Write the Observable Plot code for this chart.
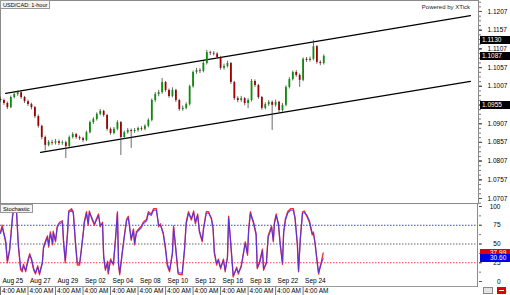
<!DOCTYPE html>
<html><head><meta charset="utf-8">
<script src="https://cdn.jsdelivr.net/npm/d3@7"></script>
<script src="https://cdn.jsdelivr.net/npm/@observablehq/plot@0.6"></script>
<style>
body{margin:0;background:#fff;font-family:"Liberation Sans",Arial,sans-serif;}
#wrap{position:relative;width:510px;height:295px;overflow:hidden;background:#fff;}
#main,#stoch{position:absolute;left:0;}
#main{top:0}
#stoch{top:204px}
.ov{position:absolute;font-size:6.5px;line-height:8px;white-space:nowrap;}
.pbox{background:#000;color:#fff;width:30px;height:8px;left:480px;padding-left:2px;box-sizing:border-box;}
</style></head><body><div id="wrap"><div id="main"></div><div id="stoch"></div></div>
<script>
// ---- price data (6-hour candles, hours since Aug 25 4:00 AM) ----
const hours = [0,6,12,18,24,30,36,42,48,54,60,66,72,78,84,90,96,102,108,114,120,126,132,138,144,150,156,162,168,174,180,186,192,198,204,210,216,222,228,234,240,246,252,258,264,270,276,282,288,294,300,306,312,318,324,330,336,342,348,354,360,366,372,378,384,390,396,402,408,414,420,426,432,438,444,450,456,462,468,474,480,486,492,498,504,510,516,522,528,534,540,546,552,558,564];
const opens = [1.0972,1.0969,1.0961,1.0950,1.0977,1.0985,1.0990,1.0977,1.0966,1.0958,1.0950,1.0926,1.0900,1.0870,1.0849,1.0857,1.0855,1.0859,1.0854,1.0856,1.0846,1.0870,1.0878,1.0870,1.0867,1.0862,1.0883,1.0910,1.0918,1.0932,1.0940,1.0929,1.0892,1.0881,1.0892,1.0910,1.0870,1.0883,1.0889,1.0886,1.0889,1.0894,1.0892,1.0900,1.0916,1.0969,1.0985,1.0990,1.1017,1.0996,1.0980,1.0996,1.0969,1.0945,1.0948,1.0958,1.1006,1.1044,1.1049,1.1047,1.1068,1.1097,1.1095,1.1093,1.1084,1.1055,1.1060,1.1068,1.1017,1.0974,1.0969,1.0974,1.0961,1.0969,1.1020,1.1009,1.0977,1.0948,1.0958,1.0964,1.0956,1.0964,1.0942,1.0956,1.1004,1.1025,1.1044,1.1036,1.1023,1.1079,1.1076,1.1079,1.1113,1.1071,1.1068];
const highs = [1.0978,1.0973,1.0965,1.0981,1.0989,1.0994,1.0992,1.0980,1.0970,1.0962,1.0953,1.0930,1.0903,1.0874,1.0862,1.0863,1.0865,1.0863,1.0861,1.0860,1.0874,1.0883,1.0881,1.0874,1.0871,1.0887,1.0914,1.0923,1.0936,1.0945,1.0943,1.0932,1.0896,1.0897,1.0915,1.0913,1.0887,1.0894,1.0893,1.0894,1.0898,1.0899,1.0904,1.0920,1.0973,1.0990,1.0996,1.1028,1.1020,1.1000,1.1003,1.0999,1.0972,1.0954,1.0963,1.1010,1.1048,1.1055,1.1054,1.1073,1.1103,1.1101,1.1100,1.1097,1.1087,1.1066,1.1074,1.1071,1.1020,1.0979,1.0980,1.0977,1.0974,1.1025,1.1024,1.1012,1.0980,1.0963,1.0969,1.0968,1.0970,1.0967,1.0961,1.1008,1.1030,1.1048,1.1049,1.1040,1.1083,1.1084,1.1085,1.1130,1.1116,1.1075,1.1091];
const lows = [1.0964,1.0956,1.0945,1.0947,1.0973,1.0980,1.0972,1.0961,1.0953,1.0944,1.0921,1.0895,1.0864,1.0834,1.0845,1.0849,1.0850,1.0848,1.0849,1.0814,1.0842,1.0866,1.0865,1.0862,1.0857,1.0859,1.0880,1.0905,1.0914,1.0928,1.0924,1.0887,1.0876,1.0877,1.0888,1.0822,1.0865,1.0879,1.0841,1.0881,1.0884,1.0887,1.0888,1.0896,1.0912,1.0964,1.0979,1.0986,1.0991,1.0975,1.0976,1.0964,1.0940,1.0940,1.0944,1.0954,1.1002,1.1039,1.1041,1.1043,1.1064,1.1089,1.1088,1.1079,1.1050,1.1050,1.1056,1.1012,1.0969,1.0963,1.0964,1.0955,1.0947,1.0965,1.1004,1.0972,1.0943,1.0944,1.0953,1.0889,1.0951,1.0936,1.0938,1.0952,1.1000,1.1021,1.1031,1.1004,1.1019,1.1071,1.1072,1.1075,1.1066,1.1062,1.1064];
const closes = [1.0969,1.0961,1.0950,1.0977,1.0985,1.0990,1.0977,1.0966,1.0958,1.0950,1.0926,1.0900,1.0870,1.0849,1.0857,1.0855,1.0859,1.0854,1.0856,1.0846,1.0870,1.0878,1.0870,1.0867,1.0862,1.0883,1.0910,1.0918,1.0932,1.0940,1.0929,1.0892,1.0881,1.0892,1.0910,1.0870,1.0883,1.0889,1.0886,1.0889,1.0894,1.0892,1.0900,1.0916,1.0969,1.0985,1.0990,1.1017,1.0996,1.0980,1.0996,1.0969,1.0945,1.0948,1.0958,1.1006,1.1044,1.1049,1.1047,1.1068,1.1097,1.1095,1.1093,1.1084,1.1055,1.1060,1.1068,1.1017,1.0974,1.0969,1.0974,1.0961,1.0969,1.1020,1.1009,1.0977,1.0948,1.0958,1.0964,1.0956,1.0964,1.0942,1.0956,1.1004,1.1025,1.1044,1.1036,1.1023,1.1079,1.1076,1.1079,1.1113,1.1071,1.1068,1.1087];

// channel lines
const upperT = [9, 820];
const upperP = [1.0988, 1.1196];
const lowerT = [70, 820];
const lowerP = [1.0830, 1.1020];

// price axis (1.0957 is hidden under the 1.0955 marker box in the reference)
const priceTicks = [1.0707,1.0757,1.0807,1.0857,1.0907,1.0957,1.1007,1.1057,1.1107,1.1157,1.1207];
const priceLabelTicks = [1.0707,1.0757,1.0807,1.0857,1.0907,1.1007,1.1057,1.1107,1.1157,1.1207];
const priceMinor = [1.06945,1.0707,1.07195,1.0732,1.07445,1.0757,1.07695,1.0782,1.07945,1.0807,1.08195,1.0832,1.08445,1.0857,1.08695,1.0882,1.08945,1.0907,1.09195,1.0932,1.09445,1.0957,1.09695,1.0982,1.09945,1.1007,1.10195,1.1032,1.10445,1.1057,1.10695,1.1082,1.10945,1.1107,1.11195,1.1132,1.11445,1.1157,1.11695,1.1182,1.11945,1.1207,1.12195,1.1232];
const priceMarkers = [1.1130, 1.1087, 1.0955];

// date axis
const dateTicks = [0,48,96,144,192,240,288,336,384,432,480,528];
const dateLabels = ["Aug 25","Aug 27","Aug 29","Sep 02","Sep 04","Sep 08","Sep 10","Sep 12","Sep 16","Sep 18","Sep 22","Sep 24"];

// stochastic
const stochT = [0,3,9,12,16,21,23,28,31,35,38,40,44,47,51,54,58,61,65,68,73,75,78,82,84,87,91,92,96,99,103,108,110,113,117,119,124,127,131,134,138,141,145,146,150,153,155,160,164,167,171,174,178,180,183,187,188,192,197,201,204,206,208,213,216,220,223,228,232,234,237,241,246,249,255,258,263,267,272,276,279,284,288,291,295,300,302,305,309,310,317,321,324,328,333,337,340,344,347,352,354,359,363,368,371,373,377,380,384,389,392,396,398,401,405,406,412,415,420,424,427,431,433,436,439,441,446,448,452,457,459,464,467,473,476,478,481,485,488,492,494,497,501,506,511,514,518,520,523,527,530,535,539,544,546,549,553,555,560,563];
const stochD = [64,72,55,28,41,85,96,92,51,19,15,21,15,24,35,31,17,12,19,11,24,44,51,59,48,64,51,65,55,72,77,79,55,28,64,92,95,91,51,25,24,41,68,77,91,77,92,84,77,81,88,75,77,35,17,25,12,28,24,59,91,24,11,41,59,81,85,57,68,51,64,68,72,77,81,91,88,95,95,75,75,65,45,24,15,37,72,51,19,12,11,41,77,91,84,92,79,88,68,55,68,91,91,85,71,41,24,28,19,28,15,31,85,59,19,8,17,12,19,37,51,37,68,91,85,81,64,19,24,41,17,24,59,72,55,77,88,77,51,25,64,81,91,95,95,85,51,15,55,91,92,88,81,64,64,51,24,12,25,30.6];
const stochK = [66,75,52,25,44,88,98,94,48,16,13,23,13,26,37,29,15,10,21,9,26,46,53,61,46,66,49,67,53,74,79,81,52,25,66,94,97,93,48,22,22,43,70,79,93,75,94,82,75,83,90,73,79,32,15,27,10,30,22,61,93,22,9,43,61,83,87,55,70,49,66,70,74,79,83,93,90,97,97,73,77,63,42,21,13,39,74,49,17,10,9,43,79,93,82,94,77,90,66,53,70,93,93,83,69,38,22,30,17,30,13,33,87,57,17,6,19,10,21,39,53,35,70,93,83,79,62,17,26,43,15,26,61,74,53,79,90,75,49,23,66,83,93,97,97,83,48,13,57,93,94,86,79,62,66,49,22,10,27,37.99];
const stochTicks = [0,25,50,75,100];
const stochMinor = [0,12.5,25,37.5,50,62.5,75,87.5,100];
const stochLast = {k: 37.99, d: 30.60};

// ---- build ----
const X_DOMAIN = [0, 834];
const candles = hours.map((t,i)=>({t, o:opens[i], h:highs[i], l:lows[i], c:closes[i]}));
const up = candles.filter(d=>d.c>=d.o), down = candles.filter(d=>d.c<d.o);
const upper = upperT.map((t,i)=>({t, p:upperP[i]}));
const lower = lowerT.map((t,i)=>({t, p:lowerP[i]}));
const stochData = stochT.map((t,i)=>({t, k:stochK[i], d:stochD[i]}));
const FONT = "Liberation Sans, Arial, sans-serif";

const main = Plot.plot({
  width:510, height:204, marginLeft:0, marginRight:32, marginTop:0, marginBottom:1,
  x:{domain:X_DOMAIN, axis:null},
  y:{domain:[1.06936,1.12364], axis:null},
  style:{fontFamily:FONT, fontSize:"6.5px", background:"transparent", overflow:"visible", color:"#000"},
  marks:[
    Plot.frame({stroke:"#8a8a8a"}),
    Plot.axisY(priceMinor, {anchor:"right", tickSize:2, tickFormat:()=>"", stroke:"#777"}),
    Plot.axisY(priceTicks, {anchor:"right", tickSize:3, tickFormat:()=>"", stroke:"#555"}),
    Plot.axisY(priceLabelTicks, {anchor:"right", tickSize:3, tickPadding:6, tickFormat:d=>d.toFixed(4), stroke:"#555"}),
    Plot.line(upper, {x:"t", y:"p", stroke:"#000", strokeWidth:1.25}),
    Plot.line(lower, {x:"t", y:"p", stroke:"#000", strokeWidth:1.25}),
    Plot.ruleX(candles, {x:"t", y1:"l", y2:"h", stroke:"#444", strokeWidth:0.8}),
    Plot.ruleX(up, {x:"t", y1:"o", y2:"c", stroke:"#0b8f0b", strokeWidth:1.8}),
    Plot.ruleX(down, {x:"t", y1:"o", y2:"c", stroke:"#a00000", strokeWidth:1.8})
  ]
});
document.getElementById("main").appendChild(main);

const stoch = Plot.plot({
  width:510, height:91, marginLeft:0, marginRight:32, marginTop:2, marginBottom:14,
  x:{domain:X_DOMAIN, axis:null},
  y:{domain:[0,100], axis:null},
  style:{fontFamily:FONT, fontSize:"6.5px", background:"transparent", overflow:"visible", color:"#000"},
  marks:[
    Plot.ruleY([75], {stroke:"#3a3aff", strokeDasharray:"1.5,1.5"}),
    Plot.ruleY([50], {stroke:"#666", strokeDasharray:"1.5,1.5"}),
    Plot.ruleY([25], {stroke:"#ff3a3a", strokeDasharray:"1.5,1.5"}),
    Plot.line(stochData, {x:"t", y:"k", stroke:"#ff2a2a", strokeWidth:1.3}),
    Plot.line(stochData, {x:"t", y:"d", stroke:"#3434ff", strokeWidth:1.2, strokeOpacity:0.8}),
    Plot.axisY(stochMinor, {anchor:"right", tickSize:2, tickFormat:()=>"", stroke:"#777"}),
    Plot.axisY(stochTicks, {anchor:"right", tickSize:3, tickPadding:19, textAnchor:"end", stroke:"#555"}),
    Plot.axisX(dateTicks, {anchor:"bottom", tickSize:0, tickPadding:0, dy:-3, dx:2, textAnchor:"start", tickFormat:d=>dateLabels[dateTicks.indexOf(d)]}),
    Plot.axisX(dateTicks, {anchor:"bottom", tickSize:0, tickPadding:7, dx:1.5, textAnchor:"start", tickFormat:()=>"4:00 AM"}),
    Plot.axisX(dateTicks, {anchor:"bottom", tickSize:10, dy:5, tickFormat:()=>"", stroke:"#777"})
  ]
});
document.getElementById("stoch").appendChild(stoch);

// ---- overlays ----
const wrap = document.getElementById("wrap");
function ov(html, css){const d=document.createElement("div");d.className="ov";d.innerHTML=html;Object.assign(d.style,css);wrap.appendChild(d);return d;}
const ys = main.scale("y");
priceMarkers.forEach(v=>{const y=ys.apply(v);const d=ov(v.toFixed(4),{top:(y-4)+"px"});d.classList.add("pbox");});
const ss = stoch.scale("y");
ov(stochLast.k.toFixed(2),{top:(204+ss.apply(stochLast.k)-4)+"px",left:"480px",width:"30px",height:"8px",background:"#e00000",color:"#fff",paddingLeft:"10px",boxSizing:"border-box"});
ov(stochLast.d.toFixed(2),{top:(204+ss.apply(stochLast.d)-4)+"px",left:"480px",width:"30px",height:"8px",background:"#0000e0",color:"#fff",paddingLeft:"10px",boxSizing:"border-box"});
ov("USD/CAD: 1-hour",{left:"0px",top:"0px",height:"9px",padding:"0 2px",border:"1px solid #999",background:"#f4f4f4",fontSize:"5.6px",lineHeight:"9px",boxSizing:"border-box"});
ov("Powered by XTick",{right:"40px",top:"3px",fontSize:"6px",color:"#222"});
ov("Stochastic",{left:"0px",top:"204px",height:"9px",padding:"0 2px",border:"1px solid #999",background:"#f4f4f4",fontSize:"5.8px",lineHeight:"8px",boxSizing:"border-box"});
ov("",{left:"0px",top:"286px",width:"478px",height:"1px",background:"#999"});
ov("",{left:"477px",top:"203px",width:"1px",height:"84px",background:"#8a8a8a"});
// bottom-right buttons (graphic only)
ov("",{left:"483px",top:"287px",width:"10px",height:"7px",border:"1px solid #888",background:"#e4e4e4",boxSizing:"border-box"});
ov("",{left:"497px",top:"287px",width:"9px",height:"7px",background:"#e00000"});
ov("",{left:"499px",top:"290px",width:"5px",height:"1px",background:"#fff"});
</script></body></html>
